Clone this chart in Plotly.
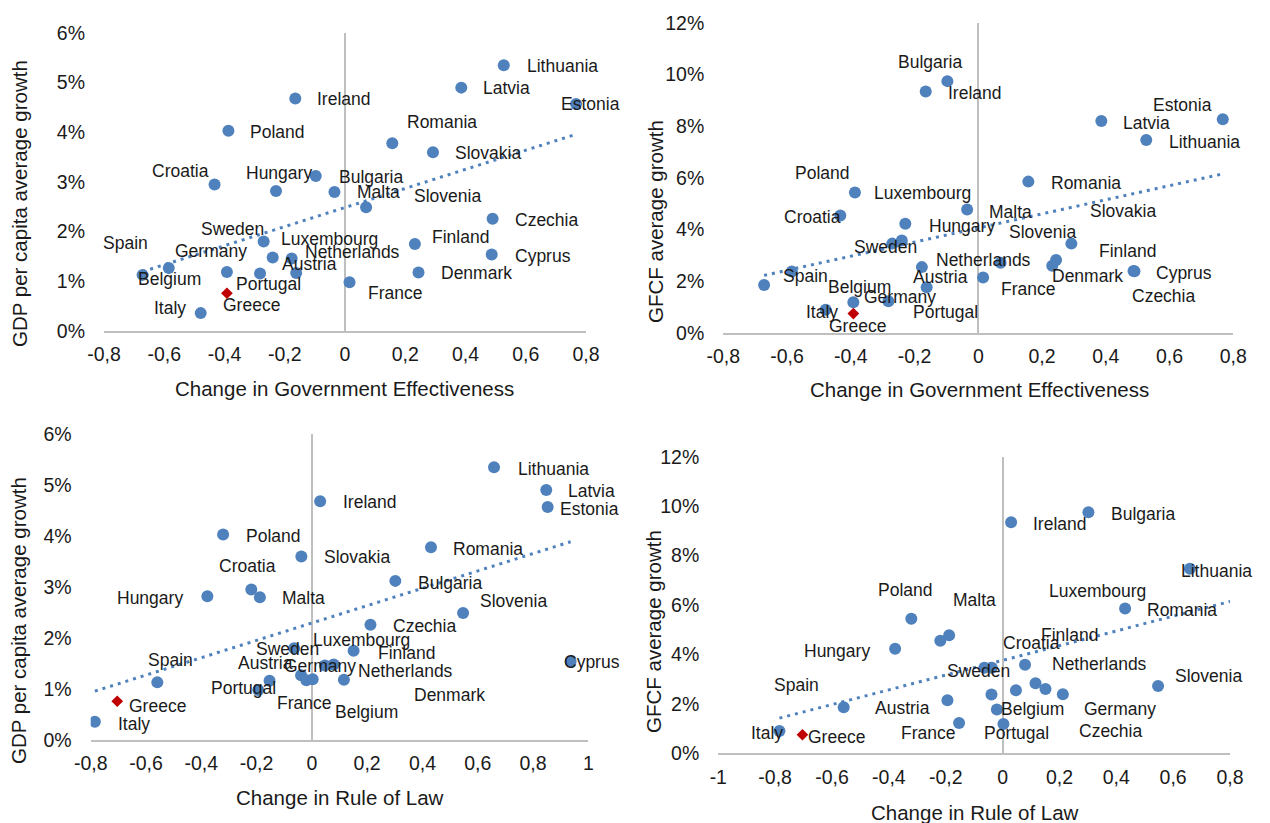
import numpy as np
import plotly.graph_objects as go

# ---------------- data ----------------
countries = ["Lithuania", "Latvia", "Estonia", "Ireland", "Poland", "Romania", "Slovakia",
             "Croatia", "Hungary", "Bulgaria", "Malta", "Slovenia", "Czechia", "Sweden",
             "Finland", "Cyprus", "Denmark", "France", "Spain", "Italy", "Luxembourg",
             "Netherlands", "Belgium", "Austria", "Germany", "Portugal"]
gov_eff_change = [0.527, 0.386, 0.767, -0.165, -0.387, 0.157, 0.292,
                  -0.433, -0.229, -0.097, -0.035, 0.070, 0.490, -0.270,
                  0.232, 0.487, 0.244, 0.015, -0.672, -0.479, -0.240,
                  -0.177, -0.585, -0.162, -0.392, -0.282]
rule_of_law_change = [0.659, 0.848, 0.853, 0.030, -0.321, 0.431, -0.038,
                      -0.219, -0.378, 0.302, -0.188, 0.547, 0.212, -0.064,
                      0.151, 0.936, 0.116, -0.194, -0.559, -0.785, 0.079,
                      0.047, -0.039, -0.020, 0.003, -0.153]
gdp_pc_growth = [5.35, 4.90, 4.57, 4.68, 4.03, 3.78, 3.60,
                 2.95, 2.82, 3.12, 2.80, 2.49, 2.26, 1.80,
                 1.75, 1.54, 1.18, 0.98, 1.13, 0.36, 1.48,
                 1.46, 1.27, 1.17, 1.19, 1.16]
gfcf_growth = [7.47, 8.21, 8.27, 9.35, 5.44, 5.86, 3.46,
               4.55, 4.23, 9.75, 4.78, 2.72, 2.39, 3.46,
               2.60, 2.40, 2.83, 2.15, 1.86, 0.90, 3.58,
               2.55, 2.38, 1.77, 1.19, 1.23]

greece_name = "Greece"
greece_gov_eff = -0.392
greece_rule_of_law = -0.704
greece_gdp = 0.76
greece_gfcf = 0.75

x_ticks_ge = [-0.8, -0.6, -0.4, -0.2, 0, 0.2, 0.4, 0.6, 0.8]
x_labels_ge = ["-0,8", "-0,6", "-0,4", "-0,2", "0", "0,2", "0,4", "0,6", "0,8"]
x_ticks_rl3 = [-0.8, -0.6, -0.4, -0.2, 0, 0.2, 0.4, 0.6, 0.8, 1]
x_labels_rl3 = ["-0,8", "-0,6", "-0,4", "-0,2", "0", "0,2", "0,4", "0,6", "0,8", "1"]
x_ticks_rl4 = [-1, -0.8, -0.6, -0.4, -0.2, 0, 0.2, 0.4, 0.6, 0.8]
x_labels_rl4 = ["-1", "-0,8", "-0,6", "-0,4", "-0,2", "0", "0,2", "0,4", "0,6", "0,8"]
y_ticks_gdp = [0, 1, 2, 3, 4, 5, 6]
y_labels_gdp = ["0%", "1%", "2%", "3%", "4%", "5%", "6%"]
y_ticks_gfcf = [0, 2, 4, 6, 8, 10, 12]
y_labels_gfcf = ["0%", "2%", "4%", "6%", "8%", "10%", "12%"]

# label offsets in pixels (dx right, dy down) per panel
lab1 = {"Lithuania": (59, 1), "Latvia": (45, 0), "Estonia": (14, 0), "Ireland": (49, 0),
        "Poland": (49, 1), "Romania": (50, -21), "Slovakia": (55, 1), "Croatia": (-34, -13),
        "Hungary": (3, -18), "Bulgaria": (55, 1), "Malta": (44, 0), "Slovenia": (81, -11),
        "Czechia": (54, 1), "Sweden": (-31, -13), "Luxembourg": (57, -18), "Finland": (46, -7),
        "Spain": (-17, -32), "Germany": (-16, -21), "Netherlands": (61, -6), "Austria": (13, -9),
        "Cyprus": (51, 1), "Belgium": (1, 11), "Portugal": (8, 11), "Denmark": (58, 1),
        "France": (45, 11), "Italy": (-31, -5), "Greece": (25, 12)}
lab2 = {"Bulgaria": (-17, -19), "Ireland": (49, 2), "Poland": (-32, -19), "Luxembourg": (21, -48),
        "Croatia": (-28, 2), "Hungary": (57, 2), "Sweden": (-7, 3), "Malta": (43, 2),
        "Romania": (58, 1), "Slovakia": (52, -33), "Slovenia": (42, -31), "Netherlands": (62, -7),
        "Finland": (75, -15), "Denmark": (31, 16), "Cyprus": (50, 2), "Czechia": (29, 25),
        "Spain": (41, -9), "Belgium": (68, 15), "Austria": (14, -10), "France": (45, 12),
        "Germany": (47, -5), "Portugal": (57, 11), "Italy": (-4, 2), "Greece": (4, 12),
        "Estonia": (-40, -14), "Latvia": (45, 2), "Lithuania": (58, 2)}
lab3 = {"Poland": (50, 2), "Croatia": (-4, -24), "Hungary": (-57, 2), "Malta": (44, 1),
        "Slovakia": (56, 1), "Ireland": (50, 1), "Lithuania": (59, 2), "Latvia": (45, 1),
        "Estonia": (42, 2), "Romania": (57, 2), "Bulgaria": (55, 2), "Slovenia": (50, -12),
        "Czechia": (54, 1), "Luxembourg": (28, -25), "Finland": (53, 2), "Netherlands": (81, 5),
        "Germany": (7, -13), "Sweden": (-7, 1), "Austria": (-41, -17), "Portugal": (-26, 7),
        "France": (46, 13), "Cyprus": (21, 1), "Denmark": (106, 15), "Belgium": (65, 37),
        "Spain": (13, -22), "Greece": (40, 5), "Italy": (39, 2)}
lab4 = {"Poland": (-6, -29), "Malta": (25, -35), "Hungary": (-58, 2), "Croatia": (91, 2),
        "Sweden": (-6, 3), "Spain": (-47, -22), "Austria": (-94, -2), "Italy": (-12, 2),
        "Greece": (34, 2), "France": (-19, 33), "Ireland": (49, 2), "Bulgaria": (55, 2),
        "Lithuania": (27, 2), "Luxembourg": (72, -74), "Romania": (57, 2), "Finland": (24, -54),
        "Netherlands": (84, -26), "Slovenia": (50, -10), "Belgium": (41, 15), "Germany": (117, -15),
        "Portugal": (57, 10), "Czechia": (48, 37)}

# ---------------- styling ----------------
W, H = 1270, 823
BLUE = "#4F81BD"
RED = "#C00000"
GREY = "#BFBFBF"
FONT = "Liberation Sans, Arial, sans-serif"
TXT = "#1a1a1a"

panels = [
    dict(n="", xs=gov_eff_change, ys=gdp_pc_growth, gx=greece_gov_eff, gy=greece_gdp,
         xr=[-0.8, 0.8], yr=[0, 6], xt=x_ticks_ge, xl=x_labels_ge, yt=y_ticks_gdp, yl=y_labels_gdp,
         px=(104, 586), py=(33, 331), labels=lab1,
         xtitle="Change in Government Effectiveness", xtpos=(344, 388),
         ytitle="GDP per capita average growth", ytpos=(20, 204)),
    dict(n="2", xs=gov_eff_change, ys=gfcf_growth, gx=greece_gov_eff, gy=greece_gfcf,
         xr=[-0.8, 0.8], yr=[0, 12], xt=x_ticks_ge, xl=x_labels_ge, yt=y_ticks_gfcf, yl=y_labels_gfcf,
         px=(723.3, 1233.3), py=(23, 333), labels=lab2,
         xtitle="Change in Government Effectiveness", xtpos=(979, 389),
         ytitle="GFCF average growth", ytpos=(655, 222)),
    dict(n="3", xs=rule_of_law_change, ys=gdp_pc_growth, gx=greece_rule_of_law, gy=greece_gdp,
         xr=[-0.8, 1.0], yr=[0, 6], xt=x_ticks_rl3, xl=x_labels_rl3, yt=y_ticks_gdp, yl=y_labels_gdp,
         px=(90.7, 588.3), py=(434, 740), labels=lab3,
         xtitle="Change in Rule of Law", xtpos=(340, 797),
         ytitle="GDP per capita average growth", ytpos=(18, 621)),
    dict(n="4", xs=rule_of_law_change, ys=gfcf_growth, gx=greece_rule_of_law, gy=greece_gfcf,
         xr=[-1.0, 0.8], yr=[0, 12], xt=x_ticks_rl4, xl=x_labels_rl4, yt=y_ticks_gfcf, yl=y_labels_gfcf,
         px=(718.3, 1230), py=(456.7, 753.3), labels=lab4,
         xtitle="Change in Rule of Law", xtpos=(975, 812),
         ytitle="GFCF average growth", ytpos=(653, 632)),
]

fig = go.Figure()
annotations = []
layout_axes = {}

for p in panels:
    n = p["n"]
    xref, yref = "x" + n, "y" + n
    xs = np.array(p["xs"], dtype=float)
    ys = np.array(p["ys"], dtype=float)

    fig.add_trace(go.Scatter(x=xs, y=ys, mode="markers", xaxis=xref, yaxis=yref,
                             marker=dict(color=BLUE, size=12, line=dict(width=0)),
                             text=countries, hoverinfo="text+x+y", showlegend=False))
    # linear trendline over all countries (Greece is a highlighted point of the same series)
    ax = np.append(xs, p["gx"])
    ay = np.append(ys, p["gy"])
    k, b = np.polyfit(ax, ay, 1)
    tx = np.array([ax.min(), ax.max()])
    fig.add_trace(go.Scatter(x=tx, y=k * tx + b, mode="lines", xaxis=xref, yaxis=yref,
                             line=dict(color=BLUE, width=3, dash="3px,5px"),
                             hoverinfo="skip", showlegend=False))
    fig.add_trace(go.Scatter(x=[p["gx"]], y=[p["gy"]], mode="markers", xaxis=xref, yaxis=yref,
                             marker=dict(color=RED, size=9, symbol="diamond", line=dict(width=0)),
                             text=[greece_name], hoverinfo="text+x+y", showlegend=False))

    # data labels
    all_names = countries + [greece_name]
    all_x = list(xs) + [p["gx"]]
    all_y = list(ys) + [p["gy"]]
    for name, xv, yv in zip(all_names, all_x, all_y):
        if name not in p["labels"]:
            continue
        dx, dy = p["labels"][name]
        annotations.append(dict(x=xv, y=yv, xref=xref, yref=yref, text=name, showarrow=False,
                                xshift=dx, yshift=-dy, xanchor="center", yanchor="middle",
                                font=dict(family=FONT, size=17.5, color=TXT)))

    x0, x1 = p["px"]
    y0, y1 = p["py"]
    axn = "" if n == "" else n
    layout_axes["xaxis" + axn] = dict(
        domain=[x0 / W, x1 / W], range=p["xr"], anchor=yref, automargin=False,
        tickvals=p["xt"], ticktext=p["xl"], showgrid=False,
        zeroline=True, zerolinecolor=GREY, zerolinewidth=2,
        showline=True, linecolor=GREY, linewidth=2, ticks="",
        ticklabelstandoff=5,
        tickfont=dict(family=FONT, size=19.5, color=TXT), fixedrange=True)
    layout_axes["yaxis" + axn] = dict(
        domain=[1 - y1 / H, 1 - y0 / H], range=p["yr"], anchor=xref, automargin=False,
        tickvals=p["yt"], ticktext=p["yl"], showgrid=False, zeroline=False,
        showline=False, ticks="", ticklabelstandoff=18,
        tickfont=dict(family=FONT, size=19.5, color=TXT), fixedrange=True)

    tx_, ty_ = p["xtpos"]
    annotations.append(dict(x=tx_ / W, y=1 - ty_ / H, xref="paper", yref="paper",
                            text=p["xtitle"], showarrow=False, xanchor="center", yanchor="middle",
                            font=dict(family=FONT, size=20.5, color=TXT)))
    yx_, yy_ = p["ytpos"]
    annotations.append(dict(x=yx_ / W, y=1 - yy_ / H, xref="paper", yref="paper",
                            text=p["ytitle"], showarrow=False, textangle=-90,
                            xanchor="center", yanchor="middle",
                            font=dict(family=FONT, size=20.5, color=TXT)))

fig.update_layout(
    width=W, height=H, margin=dict(l=0, r=0, t=0, b=0, autoexpand=False),
    paper_bgcolor="white", plot_bgcolor="white",
    showlegend=False, annotations=annotations,
    font=dict(family=FONT, color=TXT),
    **layout_axes,
)

fig.write_html("out.html", config={"displayModeBar": False},
               post_script="document.body.style.margin='0';document.body.style.overflow='hidden';")
